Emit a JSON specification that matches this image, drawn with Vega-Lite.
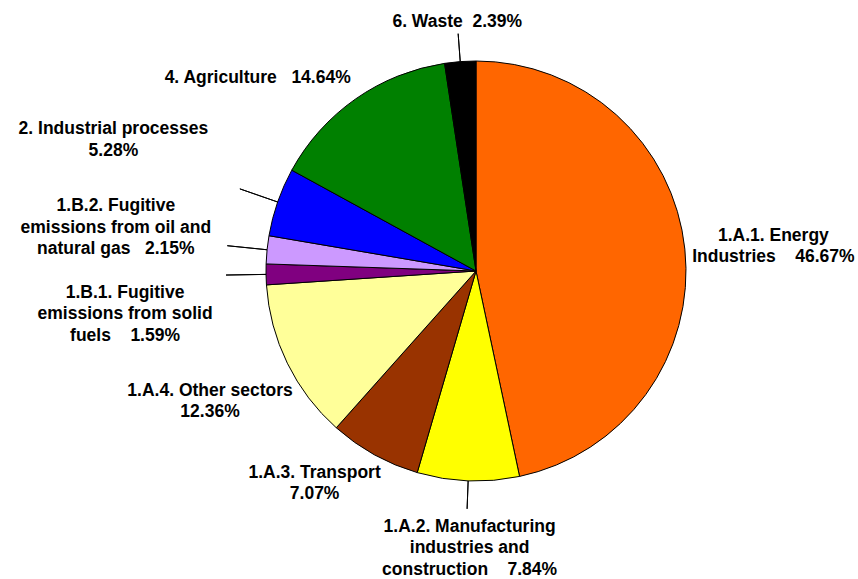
{
  "$schema": "https://vega.github.io/schema/vega-lite/v6.json",
  "width": 764,
  "height": 542,
  "autosize": {"type": "none"},
  "padding": {"left": 94, "top": 0, "right": 0, "bottom": 37},
  "background": "white",
  "config": {"view": {"stroke": null}},
  "data": {
    "values": [
      {"category": "1.A.1. Energy Industries", "share": 46.67, "label": "1.A.1. Energy\nIndustries\u00a0\u00a0\u00a0 46.67%"},
      {"category": "1.A.2. Manufacturing industries and construction", "share": 7.84, "label": "1.A.2. Manufacturing\nindustries and\nconstruction\u00a0\u00a0\u00a0 7.84%"},
      {"category": "1.A.3. Transport", "share": 7.07, "label": "1.A.3. Transport\n7.07%"},
      {"category": "1.A.4. Other sectors", "share": 12.36, "label": "1.A.4. Other sectors\n12.36%"},
      {"category": "1.B.1. Fugitive emissions from solid fuels", "share": 1.59, "label": "1.B.1. Fugitive\nemissions from solid\nfuels\u00a0\u00a0\u00a0 1.59%"},
      {"category": "1.B.2. Fugitive emissions from oil and natural gas", "share": 2.15, "label": "1.B.2. Fugitive\nemissions from oil and\nnatural gas\u00a0\u00a0 2.15%"},
      {"category": "2. Industrial processes", "share": 5.28, "label": "2. Industrial processes\n5.28%"},
      {"category": "4. Agriculture", "share": 14.64, "label": "4. Agriculture\u00a0\u00a0 14.64%"},
      {"category": "6. Waste", "share": 2.39, "label": "6. Waste\u00a0 2.39%"}
    ]
  },
  "encoding": {
    "theta": {"field": "share", "type": "quantitative", "stack": true}
  },
  "layer": [
    {
      "mark": {"type": "arc", "radius": 210, "stroke": "black", "strokeWidth": 1},
      "encoding": {
        "color": {
          "field": "category",
          "type": "nominal",
          "legend": null,
          "scale": {
            "domain": ["1.A.1. Energy Industries", "1.A.2. Manufacturing industries and construction", "1.A.3. Transport", "1.A.4. Other sectors", "1.B.1. Fugitive emissions from solid fuels", "1.B.2. Fugitive emissions from oil and natural gas", "2. Industrial processes", "4. Agriculture", "6. Waste"],
            "range": ["#FF6600", "#FFFF00", "#993300", "#FFFF99", "#800080", "#CC99FF", "#0000FF", "#008000", "#000000"]
          }
        }
      }
    },
    {
      "mark": {"type": "arc", "radius": 238, "radius2": 210, "padAngle": 3, "fill": "transparent", "stroke": "black", "strokeWidth": 1},
      "encoding": {
        "detail": {"field": "category"},
        "strokeOpacity": {"condition": {"test": "datum.category === '6. Waste' || datum.category === '1.A.2. Manufacturing industries and construction'", "value": 1}, "value": 0}
      }
    },
    {
      "mark": {"type": "arc", "radius": 250, "radius2": 210, "padAngle": 3, "fill": "transparent", "stroke": "black", "strokeWidth": 1},
      "encoding": {
        "detail": {"field": "category"},
        "strokeOpacity": {"condition": {"test": "datum.category === '2. Industrial processes' || datum.category === '1.B.2. Fugitive emissions from oil and natural gas' || datum.category === '1.B.1. Fugitive emissions from solid fuels'", "value": 1}, "value": 0}
      }
    },
    {
      "mark": {"type": "text", "radius": 299, "dy": -4, "font": "Liberation Sans", "fontWeight": "bold", "fontSize": 17.5, "lineBreak": "\n", "lineHeight": 21.5, "color": "black"},
      "encoding": {"detail": {"field": "category"}, "text": {"condition": {"test": "datum.category === '1.A.1. Energy Industries'", "field": "label"}, "value": ""}}
    },
    {
      "mark": {"type": "text", "radius": 278, "dx": 4, "dy": -22, "font": "Liberation Sans", "fontWeight": "bold", "fontSize": 17.5, "lineBreak": "\n", "lineHeight": 21.5, "color": "black"},
      "encoding": {"detail": {"field": "category"}, "text": {"condition": {"test": "datum.category === '1.A.2. Manufacturing industries and construction'", "field": "label"}, "value": ""}}
    },
    {
      "mark": {"type": "text", "radius": 267, "dx": -32, "dy": -32, "font": "Liberation Sans", "fontWeight": "bold", "fontSize": 17.5, "lineBreak": "\n", "lineHeight": 21.5, "color": "black"},
      "encoding": {"detail": {"field": "category"}, "text": {"condition": {"test": "datum.category === '1.A.3. Transport'", "field": "label"}, "value": ""}}
    },
    {
      "mark": {"type": "text", "radius": 296, "dy": -10, "font": "Liberation Sans", "fontWeight": "bold", "fontSize": 17.5, "lineBreak": "\n", "lineHeight": 21.5, "color": "black"},
      "encoding": {"detail": {"field": "category"}, "text": {"condition": {"test": "datum.category === '1.A.4. Other sectors'", "field": "label"}, "value": ""}}
    },
    {
      "mark": {"type": "text", "radius": 351, "dy": 16, "font": "Liberation Sans", "fontWeight": "bold", "fontSize": 17.5, "lineBreak": "\n", "lineHeight": 21.5, "color": "black"},
      "encoding": {"detail": {"field": "category"}, "text": {"condition": {"test": "datum.category === '1.B.1. Fugitive emissions from solid fuels'", "field": "label"}, "value": ""}}
    },
    {
      "mark": {"type": "text", "radius": 362, "dy": -28, "font": "Liberation Sans", "fontWeight": "bold", "fontSize": 17.5, "lineBreak": "\n", "lineHeight": 21.5, "color": "black"},
      "encoding": {"detail": {"field": "category"}, "text": {"condition": {"test": "datum.category === '1.B.2. Fugitive emissions from oil and natural gas'", "field": "label"}, "value": ""}}
    },
    {
      "mark": {"type": "text", "radius": 386, "dx": 2, "dy": -15, "font": "Liberation Sans", "fontWeight": "bold", "fontSize": 17.5, "lineBreak": "\n", "lineHeight": 21.5, "color": "black"},
      "encoding": {"detail": {"field": "category"}, "text": {"condition": {"test": "datum.category === '2. Industrial processes'", "field": "label"}, "value": ""}}
    },
    {
      "mark": {"type": "text", "radius": 292, "dx": -51, "dy": 46, "font": "Liberation Sans", "fontWeight": "bold", "fontSize": 17.5, "lineBreak": "\n", "lineHeight": 21.5, "color": "black"},
      "encoding": {"detail": {"field": "category"}, "text": {"condition": {"test": "datum.category === '4. Agriculture'", "field": "label"}, "value": ""}}
    },
    {
      "mark": {"type": "text", "radius": 250, "font": "Liberation Sans", "fontWeight": "bold", "fontSize": 17.5, "lineBreak": "\n", "lineHeight": 21.5, "color": "black"},
      "encoding": {"detail": {"field": "category"}, "text": {"condition": {"test": "datum.category === '6. Waste'", "field": "label"}, "value": ""}}
    }
  ]
}
